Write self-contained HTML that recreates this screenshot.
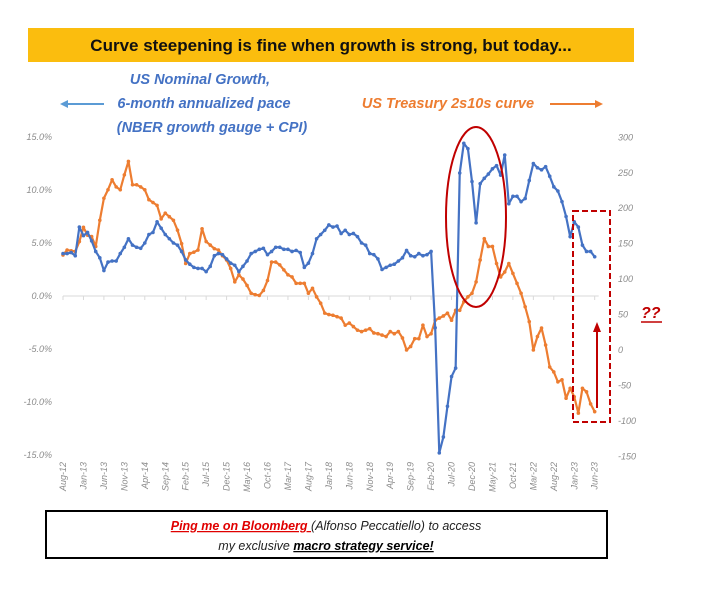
<!DOCTYPE html>
<html><head><meta charset="utf-8"><style>
body{margin:0;background:#fff;width:701px;height:609px;overflow:hidden;font-family:"Liberation Sans",sans-serif}
</style></head><body>
<svg width="701" height="609" xmlns="http://www.w3.org/2000/svg">
<rect x="28" y="28" width="606" height="34" fill="#fbbd0e"/>
<text x="331" y="51" text-anchor="middle" font-size="17" font-weight="bold" fill="#111">Curve steepening is fine when growth is strong, but today...</text>
<g fill="#4472c4" font-style="italic" font-weight="bold" font-size="14.5" text-anchor="middle">
<text x="200" y="84">US Nominal Growth,</text>
<text x="204" y="108">6-month annualized pace</text>
<text x="212" y="132">(NBER growth gauge + CPI)</text>
</g>
<line x1="62" y1="104" x2="104" y2="104" stroke="#5b9bd5" stroke-width="2"/><polygon points="60,104 68,100 68,108" fill="#5b9bd5"/>
<text x="448" y="108" text-anchor="middle" fill="#ed7d31" font-style="italic" font-weight="bold" font-size="14.5">US Treasury 2s10s curve</text>
<line x1="550" y1="104" x2="598" y2="104" stroke="#ed7d31" stroke-width="2"/><polygon points="603,104 595,100 595,108" fill="#ed7d31"/>
<g id="axes"></g>
<g id="series"></g>
<ellipse cx="476" cy="217" rx="30" ry="90" fill="none" stroke="#c00000" stroke-width="2"/>
<rect x="573" y="211" width="37" height="211" fill="none" stroke="#c00000" stroke-width="2" stroke-dasharray="6,3"/>
<line x1="597" y1="408" x2="597" y2="330" stroke="#c00000" stroke-width="2"/><polygon points="597,322 593,332 601,332" fill="#c00000"/>
<text x="641" y="318" fill="#c00000" font-weight="bold" font-style="italic" font-size="16">??</text>
<line x1="641" y1="322" x2="662" y2="322" stroke="#c00000" stroke-width="1.5"/>
<rect x="46" y="511" width="561" height="47" fill="#fff" stroke="#000" stroke-width="2"/>
<text x="326" y="530" text-anchor="middle" font-size="12.5" font-style="italic"><tspan fill="#e00000" font-weight="bold" text-decoration="underline">Ping me on Bloomberg </tspan><tspan fill="#222">(Alfonso Peccatiello) to access</tspan></text>
<text x="326" y="550" text-anchor="middle" font-size="12.5" font-style="italic" fill="#222">my exclusive <tspan font-weight="bold" text-decoration="underline" fill="#000">macro strategy service!</tspan></text>
</svg>
<script>
const xLabels=["Aug-12","Jan-13","Jun-13","Nov-13","Apr-14","Sep-14","Feb-15","Jul-15","Dec-15","May-16","Oct-16","Mar-17","Aug-17","Jan-18","Jun-18","Nov-18","Apr-19","Sep-19","Feb-20","Jul-20","Dec-20","May-21","Oct-21","Mar-22","Aug-22","Jan-23","Jun-23"];
const leftTicks=[15,10,5,0,-5,-10,-15];
const rightTicks=[300,250,200,150,100,50,0,-50,-100,-150];
const growth=[4.0,4.0,4.1,3.8,6.5,5.7,6.0,5.2,4.2,3.6,2.4,3.2,3.3,3.3,4.0,4.6,5.4,4.8,4.6,4.5,5.0,5.8,6.0,7.0,6.4,5.8,5.4,5.0,4.8,4.2,3.4,3.0,2.7,2.6,2.6,2.3,2.8,3.8,4.0,3.9,3.5,3.1,2.9,2.3,2.8,3.3,4.0,4.2,4.4,4.5,3.9,4.2,4.6,4.6,4.4,4.4,4.2,4.3,4.1,2.7,3.1,4.0,5.4,5.8,6.2,6.7,6.5,6.6,5.9,6.2,5.8,5.9,5.6,5.0,4.8,4.0,3.9,3.5,2.5,2.7,2.9,3.0,3.3,3.6,4.3,3.8,3.7,4.0,3.8,3.9,4.2,-3.0,-14.8,-13.3,-10.4,-7.6,-6.8,11.6,14.4,13.9,10.8,6.9,10.6,11.1,11.5,12.0,12.3,11.4,13.3,8.7,9.4,9.4,8.9,9.2,10.9,12.5,12.1,11.9,12.2,11.3,10.3,9.9,8.9,7.5,5.6,7.0,6.5,4.8,4.2,4.2,3.7];
const curve=[134,141,140,139,153,173,162,160,146,183,214,226,240,230,226,247,266,233,233,230,226,212,208,204,185,193,188,183,169,150,122,136,138,141,171,153,148,143,141,133,127,115,96,106,100,91,80,78,77,84,98,124,124,120,113,106,103,94,94,94,80,87,75,66,52,50,49,47,45,35,38,33,28,26,28,30,24,23,21,19,26,23,26,17,0,5,16,16,35,19,23,42,45,48,52,42,56,56,68,75,80,96,127,157,146,146,122,103,110,122,108,94,80,61,40,0,19,31,7,-24,-31,-45,-42,-68,-54,-66,-89,-54,-59,-76,-87];
const NS="http://www.w3.org/2000/svg";
const X0=63,DX=4.09;
const xs=i=>X0+i*DX;
const yL=v=>296-v*10.6;
const yR=v=>350-v*0.709;
function mk(t,a,p){const e=document.createElementNS(NS,t);for(const k in a)e.setAttribute(k,a[k]);p.appendChild(e);return e;}
const ax=document.getElementById('axes');
const zl=mk('line',{x1:X0,x2:xs(130)+4,y1:yL(0),y2:yL(0),stroke:'#d9d9d9','stroke-width':1},ax);


leftTicks.forEach(v=>{const t=mk('text',{x:52,y:yL(v)+3,'text-anchor':'end','font-size':9,'font-style':'italic',fill:'#8c8c8c'},ax);t.textContent=v.toFixed(1)+'%';

});
rightTicks.forEach(v=>{const t=mk('text',{x:618,y:yR(v)+3,'font-size':9,'font-style':'italic',fill:'#8c8c8c'},ax);t.textContent=v;

});
xLabels.forEach((l,i)=>{const x=xs(i*5);mk('line',{x1:x,x2:x,y1:yL(0),y2:yL(0)+4,stroke:'#d9d9d9'},ax);
const t=mk('text',{x:0,y:0,'text-anchor':'end','font-size':9,'font-style':'italic',fill:'#8c8c8c',transform:`translate(${x+3},462) rotate(-90)`},ax);t.textContent=l;

});
const sg=document.getElementById('series');
function series(arr,yf,col,name){
const p=mk('polyline',{points:arr.map((v,i)=>xs(i)+','+yf(v)).join(' '),fill:'none',stroke:col,'stroke-width':2.2,'stroke-linejoin':'round'},sg);


arr.forEach((v,i)=>{const c=mk('circle',{cx:xs(i),cy:yf(v),r:1.8,fill:col},sg);

});
}
series(curve,yR,'#ed7d31','curve-2s10s');
series(growth,yL,'#4472c4','nominal-growth');
</script>
</body></html>
